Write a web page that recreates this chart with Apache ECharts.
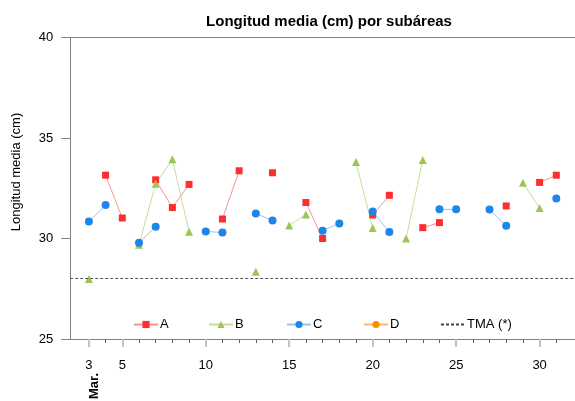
<!DOCTYPE html>
<html>
<head>
<meta charset="utf-8">
<script src="https://cdn.jsdelivr.net/npm/echarts@6/dist/echarts.min.js"></script>
<style>html,body{margin:0;padding:0;background:#fff;}#c{width:575px;height:401px;}</style>
</head>
<body>
<div id="c"></div>
<script>
var days = [3,4,5,6,7,8,9,10,11,12,13,14,15,16,17,18,19,20,21,22,23,24,25,26,27,28,29,30,31];
var seriesA = [null,33.15,31.02,null,32.92,31.54,32.69,null,30.97,33.37,null,33.27,null,31.79,30.0,null,null,31.17,32.15,null,30.54,30.79,null,null,null,31.62,null,32.79,33.15];
var seriesB = [27.99,null,null,29.69,32.72,33.94,30.34,null,null,null,28.34,null,30.65,31.19,null,null,33.8,30.52,null,30.0,33.9,null,null,null,null,null,32.77,31.52,null];
var seriesC = [30.84,31.67,null,29.79,30.59,null,null,30.35,30.3,null,31.24,30.9,null,null,30.39,30.75,null,31.34,30.32,null,null,31.45,31.45,null,31.44,30.64,null,null,31.99];
var seriesD = [];
var tma = 28;
var majorTicks = [3,5,10,15,20,25,30];
var minorTicks = [3,4,5,6,7,8,9,10,11,12,13,14,15,16,17,18,19,20,21,22,23,24,25,26,27,28,29,30,31];
var yTicks = [25,30,35,40];

var FONT = "'Liberation Sans', Arial, sans-serif";
function pairs(vals){ return days.map(function(d,i){ return [d, vals[i]]; }); }
var xMin = 1.88, xMax = 32.12;

var chart = echarts.init(document.getElementById('c'), null, {renderer:'canvas'});
function lg(item, left){
  return {show:true, data:[item], left:left, top:318, itemWidth:24, itemHeight:9, itemGap:0,
    padding:0, textStyle:{fontFamily:FONT, fontSize:13, color:'#000', padding:[0,0,0,-3]}};
}
function ser(name, vals, color, lineColor, symbol, size){
  return {name:name, type:'line', data:pairs(vals), connectNulls:false,
    symbol:symbol, symbolSize:size, showAllSymbol:true,
    itemStyle:{color:color}, lineStyle:{color:lineColor, width:1},
    emphasis:{disabled:true}, animation:false, z:2};
}
chart.setOption({
  animation:false,
  title:{text:'Longitud media (cm) por subáreas', left:324, top:9, textAlign:'center',
    textStyle:{fontFamily:FONT, fontSize:15, fontWeight:'bold', color:'#000'}},
  legend:[lg('A',133), lg('B',208), lg('C',286), lg('D',363),
    lg({name:'TMA (*)', itemStyle:{color:'rgba(0,0,0,0)', borderColor:'rgba(0,0,0,0)', borderWidth:0}}, 440)],
  grid:{left:70.2, top:37.5, width:508.9, height:301.5, containLabel:false},
  xAxis:[
    {type:'value', min:xMin, max:xMax, position:'bottom',
     axisLine:{show:true, onZero:false, lineStyle:{color:'#808080', width:1}},
     axisTick:{show:true, customValues:minorTicks, length:4, lineStyle:{color:'#666', width:1}},
     axisLabel:{show:false}, splitLine:{show:false}},
    {type:'value', min:xMin, max:xMax, position:'bottom', gridIndex:0,
     axisLine:{show:false},
     axisTick:{show:true, customValues:majorTicks, length:8, lineStyle:{color:'#c0c0c0', width:2}},
     axisLabel:{show:true, customValues:majorTicks, margin:20, fontFamily:FONT, fontSize:13, color:'#000'},
     splitLine:{show:false}},
    {type:'value', min:xMin, max:xMax, position:'top', gridIndex:0,
     axisLine:{show:true, onZero:false, lineStyle:{color:'#808080', width:1}},
     axisTick:{show:false}, axisLabel:{show:false}, splitLine:{show:false}}
  ],
  yAxis:{type:'value', min:25, max:40, interval:5,
    axisLine:{show:true, lineStyle:{color:'#808080', width:1}},
    axisTick:{show:true, length:9, lineStyle:{color:'#808080', width:1}},
    axisLabel:{margin:17, fontFamily:FONT, fontSize:13, color:'#000'},
    splitLine:{show:false}},
  graphic:[
    {type:'text', x:16, y:172, rotation:Math.PI/2,
     style:{text:'Longitud media (cm)', fontFamily:FONT, fontSize:13, fill:'#000', align:'center', verticalAlign:'middle'}},
    {type:'text', x:94, y:386, rotation:Math.PI/2,
     style:{text:'Mar.', fontFamily:FONT, fontSize:13, fontWeight:'bold', fill:'#000', align:'center', verticalAlign:'middle'}}
  ],
  series:[
    ser('A', seriesA, '#ff2d2d', 'rgba(245,120,120,0.8)', 'rect', 7),
    ser('B', seriesB, '#9cc654', 'rgba(190,218,148,0.9)', 'triangle', 8),
    ser('C', seriesC, '#1d86e8', 'rgba(130,180,235,0.8)', 'circle', 8),
    {name:'D', type:'line', data:seriesD, symbol:'circle', symbolSize:8,
     itemStyle:{color:'#ff8c00'}, lineStyle:{color:'rgba(255,175,100,0.9)', width:1}},
    {name:'TMA (*)', type:'line', data:[], symbol:'none',
     itemStyle:{color:'rgba(0,0,0,0)'}, lineStyle:{color:'#444', width:1, type:[3,2]},
     markLine:{silent:true, symbol:'none', label:{show:false},
       lineStyle:{color:'#555', width:1, type:[3,2]}, data:[{yAxis:tma}], animation:false}}
  ]
});
</script>
</body>
</html>
